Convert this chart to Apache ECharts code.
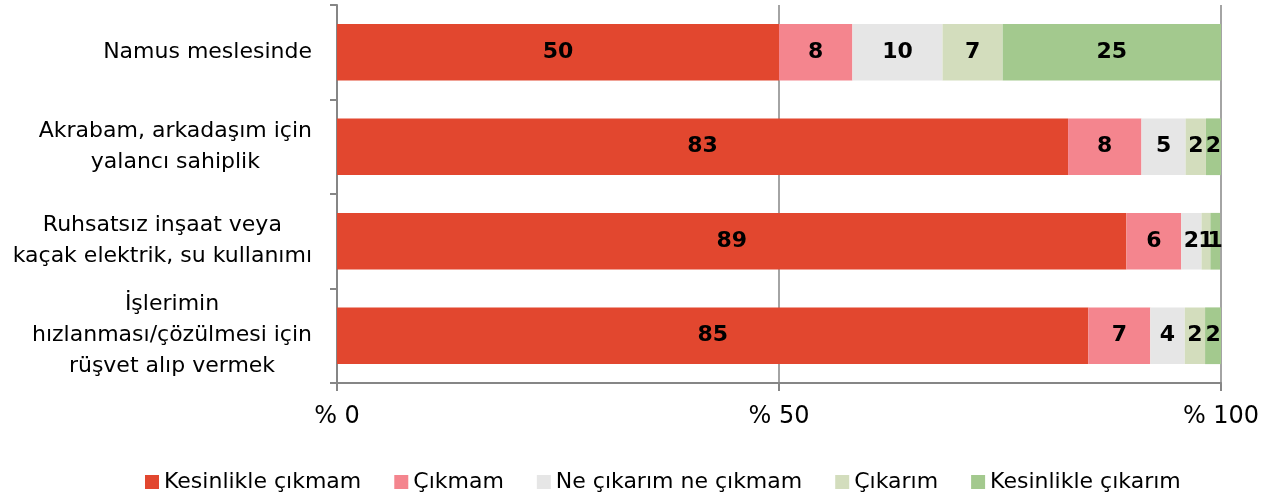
<!DOCTYPE html>
<html>
<head>
<meta charset="utf-8">
<script src="https://cdn.jsdelivr.net/npm/echarts@6/dist/echarts.min.js"></script>
<style>
html, body { margin: 0; padding: 0; background: #fff; }
#main { width: 1276px; height: 500px; }
</style>
</head>
<body>
<div id="main"></div>
<script>
// kategoriler (yukaridan asagiya)
var categories = [
    'Namus meslesinde',
    'Akrabam, arkadaşım için\nyalancı sahiplik',
    'Ruhsatsız inşaat veya\nkaçak elektrik, su kullanımı',
    'İşlerimin\nhızlanması/çözülmesi için\nrüşvet alıp vermek'
]
var seriesNames = ['Kesinlikle çıkmam', 'Çıkmam', 'Ne çıkarım ne çıkmam', 'Çıkarım', 'Kesinlikle çıkarım']
var kesinlikleCikmam = [50.0, 82.7, 89.3, 85.0]
var cikmam = [8.3, 8.3, 6.2, 7.0]
var neNe = [10.2, 5.0, 2.3, 3.9]
var cikarim = [6.8, 2.3, 1.0, 2.3]
var kesinlikleCikarim = [24.7, 1.8, 1.1, 1.8]
var xTicks = [0, 50, 100]
var colors = ['#e2472f', '#f4858e', '#e6e6e6', '#d3ddbd', '#a3c98e']

var allData = [kesinlikleCikmam, cikmam, neNe, cikarim, kesinlikleCikarim]
var axisColor = '#868686'
var font = 'DejaVu Sans'

var series = []
for (var i = 0; i < seriesNames.length; i++) {
    series.push({
        name: seriesNames[i],
        type: 'bar',
        stack: 'toplam',
        barCategoryGap: '40%',
        data: allData[i],
        itemStyle: { color: colors[i] },
        label: {
            show: true,
            position: 'inside',
            color: '#000',
            fontFamily: 'DejaVu Sans',
            fontWeight: 'bold',
            fontSize: 22,
            formatter: function (p) { return Math.round(p.value) }
        }
    })
}

var myChart = echarts.init(document.getElementById('main'))
var option = {
    animation: false,
    color: colors,
    grid: { left: 337, right: 55, top: 5, bottom: 117 },
    legend: {
        bottom: 2,
        left: 140,
        itemWidth: 14,
        itemHeight: 14,
        itemGap: 33,
        icon: 'rect',
        textStyle: { color: '#000', fontFamily: font, fontSize: 22 },
        data: seriesNames
    },
    xAxis: {
        type: 'value',
        min: 0,
        max: 100,
        interval: 50,
        axisLine: { show: true, lineStyle: { color: axisColor, width: 2 } },
        axisTick: { show: true, length: 8, lineStyle: { color: axisColor, width: 2 } },
        splitLine: { show: true, lineStyle: { color: axisColor, width: 1.5 } },
        axisLabel: {
            margin: 22,
            color: '#000',
            fontFamily: font,
            fontSize: 24,
            formatter: function (v) { return xTicks.indexOf(v) >= 0 ? '% ' + v : '' }
        }
    },
    yAxis: {
        type: 'category',
        inverse: true,
        data: categories,
        axisLine: { show: true, lineStyle: { color: axisColor, width: 2 } },
        axisTick: { show: true, length: 7, interval: 0, lineStyle: { color: axisColor, width: 2 } },
        axisLabel: {
            margin: 25,
            color: '#000',
            fontFamily: font,
            fontSize: 22,
            lineHeight: 31,
            formatter: function (v) {
                return v.split('\n').map(function (s) { return '{c|' + s + '}' }).join('\n')
            },
            rich: {
                c: { align: 'center', fontFamily: font, fontSize: 22, lineHeight: 31, color: '#000' }
            }
        }
    },
    series: series
}
myChart.setOption(option, true)
</script>
</body>
</html>
